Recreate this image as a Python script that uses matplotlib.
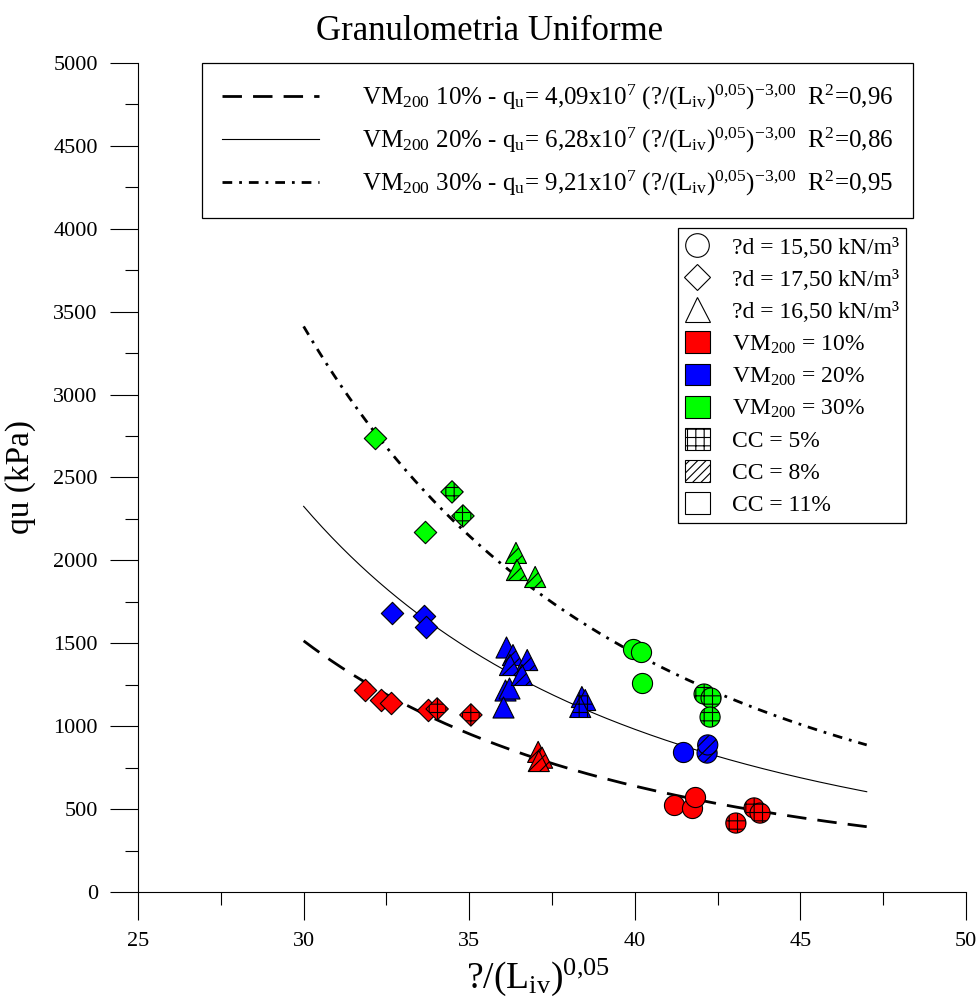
import numpy as np
import matplotlib
matplotlib.use('Agg')
import matplotlib.pyplot as plt
from matplotlib.lines import Line2D
from matplotlib.patches import Patch
from matplotlib.ticker import MultipleLocator

plt.rcParams['font.family'] = 'Liberation Serif'
plt.rcParams['mathtext.fontset'] = 'custom'
plt.rcParams['mathtext.rm'] = 'Liberation Serif'
plt.rcParams['mathtext.it'] = 'Liberation Serif'
plt.rcParams['hatch.linewidth'] = 0.8
plt.rcParams['hatch.color'] = 'black'

# --- fitted curves: qu = a * (x)^-3 ---
coef_10 = 4.09e7
coef_20 = 6.28e7
coef_30 = 9.21e7
curve_start = 30
curve_end = 47

# --- measured points (x = ?/(Liv)^0,05, y = qu kPa) ---
# VM200 = 10%
red_d_plain_x = [31.85, 32.34, 32.64, 33.76]
red_d_plain_y = [1218, 1158, 1140, 1098]
red_d_grid_x = [34.03, 35.05]
red_d_grid_y = [1104, 1068]
red_t_diag_x = [37.08, 37.2, 37.1]
red_t_diag_y = [845, 810, 790]
red_c_plain_x = [41.18, 41.73, 41.82]
red_c_plain_y = [525, 507, 573]
red_c_grid_x = [43.6, 43.78, 43.05]
red_c_grid_y = [507, 476, 416]

# VM200 = 20%
blue_d_plain_x = [32.67, 33.64, 33.7]
blue_d_plain_y = [1683, 1665, 1598]
blue_t_plain_x = [36.11, 36.08, 36.2, 36.02]
blue_t_plain_y = [1478, 1218, 1230, 1116]
blue_t_diag_x = [36.32, 36.75, 36.23, 36.59]
blue_t_diag_y = [1429, 1399, 1369, 1309]
blue_t_grid_x = [38.4, 38.5, 38.35]
blue_t_grid_y = [1176, 1158, 1116]
blue_c_plain_x = [41.46]
blue_c_plain_y = [845]
blue_c_diag_x = [42.18, 42.2]
blue_c_diag_y = [838, 887]

# VM200 = 30%
green_d_plain_x = [32.16, 33.67]
green_d_plain_y = [2738, 2171]
green_d_grid_x = [34.48, 34.81]
green_d_grid_y = [2413, 2268]
green_t_diag_x = [36.41, 36.44, 36.99]
green_t_diag_y = [2045, 1942, 1900]
green_c_plain_x = [39.95, 40.19, 40.22]
green_c_plain_y = [1466, 1448, 1261]
green_c_grid_x = [42.09, 42.3, 42.27]
green_c_grid_y = [1194, 1170, 1055]

fig = plt.figure(figsize=(9.79, 9.98), dpi=100)
ax = fig.add_axes([0.141, 0.1062, 0.8458, 0.8307])

# curves
cx = np.linspace(curve_start, curve_end, 300)
ax.plot(cx, coef_10 * cx ** -3, color='black', lw=2, dashes=(7, 4), zorder=2)
ax.plot(cx, coef_20 * cx ** -3, color='black', lw=0.8, zorder=2)
ax.plot(cx, coef_30 * cx ** -3, color='black', lw=2, dashes=(3.5, 2.5, 1, 2.5), zorder=2)

# markers
groups = [
    (red_d_plain_x, red_d_plain_y, 'red', 'D', None),
    (red_d_grid_x, red_d_grid_y, 'red', 'D', '++'),
    (red_t_diag_x, red_t_diag_y, 'red', '^', '///'),
    (red_c_plain_x, red_c_plain_y, 'red', 'o', None),
    (red_c_grid_x, red_c_grid_y, 'red', 'o', '++'),
    (blue_d_plain_x, blue_d_plain_y, 'blue', 'D', None),
    (blue_t_plain_x, blue_t_plain_y, 'blue', '^', None),
    (blue_t_diag_x, blue_t_diag_y, 'blue', '^', '///'),
    (blue_t_grid_x, blue_t_grid_y, 'blue', '^', '++'),
    (blue_c_plain_x, blue_c_plain_y, 'blue', 'o', None),
    (blue_c_diag_x, blue_c_diag_y, 'blue', 'o', '///'),
    (green_d_plain_x, green_d_plain_y, 'lime', 'D', None),
    (green_d_grid_x, green_d_grid_y, 'lime', 'D', '++'),
    (green_t_diag_x, green_t_diag_y, 'lime', '^', '///'),
    (green_c_plain_x, green_c_plain_y, 'lime', 'o', None),
    (green_c_grid_x, green_c_grid_y, 'lime', 'o', '++'),
]
sizes = {'o': 210, 'D': 130, '^': 230}
for gx, gy, col, mk, hatch in groups:
    ax.scatter(gx, gy, s=sizes[mk], marker=mk, facecolor=col, edgecolor='black',
               linewidth=0.8, hatch=hatch, zorder=3)

# axes styling
ax.set_xlim(25, 50)
ax.set_ylim(0, 5000)
ax.spines['top'].set_visible(False)
ax.spines['right'].set_visible(False)
ax.xaxis.set_major_locator(MultipleLocator(5))
ax.xaxis.set_minor_locator(MultipleLocator(2.5))
ax.yaxis.set_major_locator(MultipleLocator(500))
ax.yaxis.set_minor_locator(MultipleLocator(250))
ax.tick_params(which='major', direction='out', length=20, width=0.8, labelsize=16, pad=9)
ax.tick_params(which='minor', direction='out', length=9.5, width=0.8)
fig.text(0.5, 1 - 31 / 998, 'Granulometria Uniforme', fontsize=25, ha='center', va='center')
ax.set_ylabel('qu (kPa)', fontsize=24)
ax.yaxis.set_label_coords(-0.123, 0.5)
ax.set_xlabel(r'?/(L$_{iv}$)$^{0{,}05}$', fontsize=27)
ax.xaxis.set_label_coords(0.483, -0.078)

# legend 1: curves
curve_labels = [
    r'VM$_{200}$ 10% - q$_{u}$= 4,09x10$^{7}$ (?/(L$_{iv}$)$^{0{,}05}$)$^{-3{,}00}$  R$^{2}$=0,96',
    r'VM$_{200}$ 20% - q$_{u}$= 6,28x10$^{7}$ (?/(L$_{iv}$)$^{0{,}05}$)$^{-3{,}00}$  R$^{2}$=0,86',
    r'VM$_{200}$ 30% - q$_{u}$= 9,21x10$^{7}$ (?/(L$_{iv}$)$^{0{,}05}$)$^{-3{,}00}$  R$^{2}$=0,95',
]
h1 = [Line2D([], [], color='black', lw=2, dashes=(7, 4)),
      Line2D([], [], color='black', lw=0.8),
      Line2D([], [], color='black', lw=2, dashes=(3.5, 2.5, 1, 2.5))]
leg1 = fig.legend(h1, curve_labels, loc='upper left', bbox_to_anchor=(0.2063, 0.9369),
                  borderaxespad=0, fontsize=18, handlelength=3.9, handletextpad=1.7,
                  labelspacing=0.55, borderpad=0.8, fancybox=False, framealpha=1,
                  edgecolor='black')
leg1.get_frame().set_linewidth(0.9)

# legend 2: symbols
h2 = [Line2D([], [], ls='none', marker='o', ms=17, mfc='white', mec='black', mew=0.8),
      Line2D([], [], ls='none', marker='D', ms=13, mfc='white', mec='black', mew=0.8),
      Line2D([], [], ls='none', marker='^', ms=18, mfc='white', mec='black', mew=0.8),
      Patch(facecolor='red', edgecolor='black', lw=0.8),
      Patch(facecolor='blue', edgecolor='black', lw=0.8),
      Patch(facecolor='lime', edgecolor='black', lw=0.8),
      Patch(facecolor='white', edgecolor='black', lw=0.8, hatch='++'),
      Patch(facecolor='white', edgecolor='black', lw=0.8, hatch='////'),
      Patch(facecolor='white', edgecolor='black', lw=0.8)]
sym_labels = ['?d = 15,50 kN/m³', '?d = 17,50 kN/m³', '?d = 16,50 kN/m³',
              r'VM$_{200}$ = 10%', r'VM$_{200}$ = 20%', r'VM$_{200}$ = 30%',
              'CC = 5%', 'CC = 8%', 'CC = 11%']
leg2 = fig.legend(h2, sym_labels, loc='upper left', bbox_to_anchor=(0.6925, 0.7715),
                  borderaxespad=0, fontsize=17, handlelength=1.05, handleheight=1.05,
                  handletextpad=0.95, labelspacing=0.34, borderpad=0.3, fancybox=False,
                  framealpha=1, edgecolor='black')
leg2.get_frame().set_linewidth(0.9)

plt.savefig('out.png', dpi=100)
